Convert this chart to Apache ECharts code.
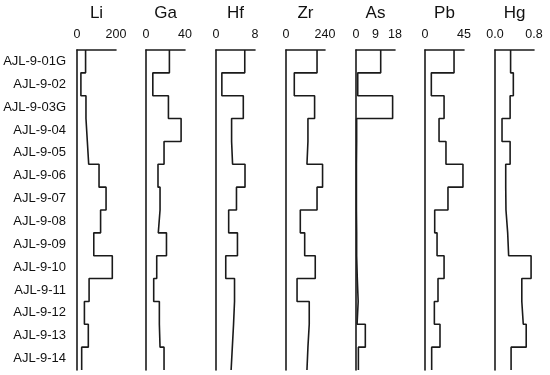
<!DOCTYPE html>
<html>
<head>
<meta charset="utf-8">
<script src="https://cdn.jsdelivr.net/npm/echarts@6/dist/echarts.min.js"></script>
<style>
html,body{margin:0;padding:0;background:#fff;}
#chart{width:550px;height:375px;}
</style>
</head>
<body>
<div id="chart"></div>
<script>
// Data
var samples = ['AJL-9-01G','AJL-9-02','AJL-9-03G','AJL-9-04','AJL-9-05','AJL-9-06','AJL-9-07','AJL-9-08','AJL-9-09','AJL-9-10','AJL-9-11','AJL-9-12','AJL-9-13','AJL-9-14'];
var elements = ['Li','Ga','Hf','Zr','As','Pb','Hg'];
var axisMax = [200, 40, 8, 240, 18, 45, 0.8];
var axisStep = [200, 40, 8, 240, 9, 45, 0.8];
var Li = [44, 20, 46, 53, 60, 113, 149, 121, 86, 181, 62, 38, 58, 24];
var Ga = [24, 7, 23, 36, 18.5, 12.3, 14.4, 12.6, 21, 11, 7.9, 13.7, 14.4, 18.5];
var Hf = [5.9, 1.2, 5.6, 3.2, 3.4, 5.95, 4.2, 2.6, 4.4, 2.0, 3.8, 3.6, 3.35, 3.1];
var Zr = [191, 51, 176, 135, 129, 225, 191, 88, 115, 180, 68, 143, 135, 129];
var As = [11.4, 0.8, 16.9, 0.3, 0.2, 0.2, 0.2, 0.3, 0.3, 0.6, 1.0, 0.5, 4.3, 1.1];
var Pb = [33.5, 7.3, 22, 16.2, 24.2, 43.8, 26.5, 11.2, 13.9, 22, 15, 10.8, 17.3, 7.7];
var Hg = [0.32, 0.376, 0.31, 0.144, 0.31, 0.22, 0.225, 0.26, 0.28, 0.74, 0.55, 0.58, 0.64, 0.33];
var values = [Li, Ga, Hf, Zr, As, Pb, Hg];

var panelLeft = [77, 146, 216, 286, 356, 425, 495];
var panelWidth = 39;
var lineColor = '#1a1a1a';
var fontFam = 'Liberation Sans, Arial, sans-serif';

function stepData(arr) {
  var pts = [];
  for (var i = 0; i < arr.length; i++) {
    pts.push([arr[i], i]);
    pts.push([arr[i], i + 1]);
  }
  return pts;
}

var grids = [], xAxes = [], yAxes = [], series = [];
for (var k = 0; k < elements.length; k++) {
  grids.push({left: panelLeft[k], top: 48, width: panelWidth, height: 322});
  xAxes.push({
    type: 'value', gridIndex: k, position: 'top', min: 0, max: axisMax[k], interval: axisStep[k],
    name: elements[k], nameLocation: 'middle', nameGap: 28,
    nameTextStyle: {fontSize: 17, color: '#111', fontFamily: fontFam},
    axisLine: {show: true, onZero: false, lineStyle: {color: lineColor, width: 1.6}},
    axisTick: {show: false},
    splitLine: {show: false},
    axisLabel: {show: true, margin: 9, fontSize: 12.5, color: '#111', fontFamily: fontFam,
      showMinLabel: true, showMaxLabel: true,
      formatter: (function (kk) { return function (v) { return kk === 6 ? v.toFixed(1) : String(v); }; })(k)}
  });
  yAxes.push({
    type: 'value', gridIndex: k, inverse: true, min: 0, max: samples.length,
    axisLine: {show: true, onZero: false, lineStyle: {color: lineColor, width: 1.6}},
    axisTick: {show: false}, axisLabel: {show: false}, splitLine: {show: false}
  });
  series.push({
    type: 'line', xAxisIndex: k, yAxisIndex: k, data: stepData(values[k]),
    showSymbol: false, symbol: 'none', animation: false,
    lineStyle: {color: lineColor, width: 1.6}
  });
}
// Category axis for sample labels on the first panel
yAxes.push({
  type: 'category', gridIndex: 0, inverse: true, data: samples, position: 'left', boundaryGap: true,
  axisLine: {show: false}, axisTick: {show: false}, splitLine: {show: false},
  axisLabel: {show: true, margin: 11, fontSize: 13, color: '#111', fontFamily: fontFam, interval: 0}
});

var chart = echarts.init(document.getElementById('chart'), null, {renderer: 'canvas'});
chart.setOption({
  backgroundColor: '#fff',
  animation: false,
  grid: grids,
  xAxis: xAxes,
  yAxis: yAxes,
  series: series
});
</script>
</body>
</html>
